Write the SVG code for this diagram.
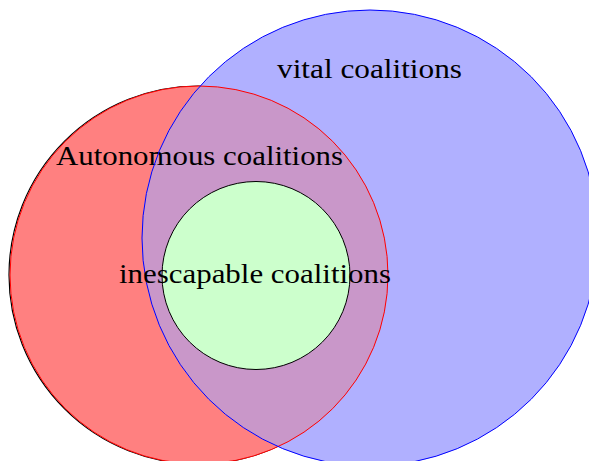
<svg xmlns="http://www.w3.org/2000/svg" width="589" height="461" viewBox="0 0 589 461">
<style>
.lbl{font-family:"Liberation Serif","DejaVu Serif",serif;font-size:28px;fill:#000;text-anchor:middle}
</style>
<defs>
<clipPath id="blueClip"><circle cx="370" cy="238" r="228"/></clipPath>
</defs>
<rect width="589" height="461" fill="#fff"/>
<g id="autonomous-fill">
<circle cx="198" cy="275" r="189" fill="none" stroke="#000" stroke-width="1.2"/>
<circle cx="199" cy="275" r="189" fill="#ff8080"/>
</g>
<g id="vital-fill">
<circle cx="370" cy="238" r="228" fill="#b0b0ff"/>
<circle cx="199" cy="275" r="189" fill="#c997c9" clip-path="url(#blueClip)"/>
</g>
<g id="autonomous">
<circle cx="199" cy="275" r="189" fill="none" stroke="#ff0000" stroke-width="1"/>
<text class="lbl" x="199.5" y="165" textLength="287" lengthAdjust="spacingAndGlyphs">Autonomous coalitions</text>
</g>
<g id="vital">
<circle cx="370" cy="238" r="228" fill="none" stroke="#0000ff" stroke-width="1"/>
<text class="lbl" x="369.5" y="78" textLength="185" lengthAdjust="spacingAndGlyphs">vital coalitions</text>
</g>
<g id="inescapable">
<circle cx="256" cy="275.5" r="94" fill="#ccffcc" stroke="#000" stroke-width="1"/>
<text class="lbl" x="255" y="283" textLength="272" lengthAdjust="spacingAndGlyphs">inescapable coalitions</text>
</g>
<g id="connectors"/>
</svg>
